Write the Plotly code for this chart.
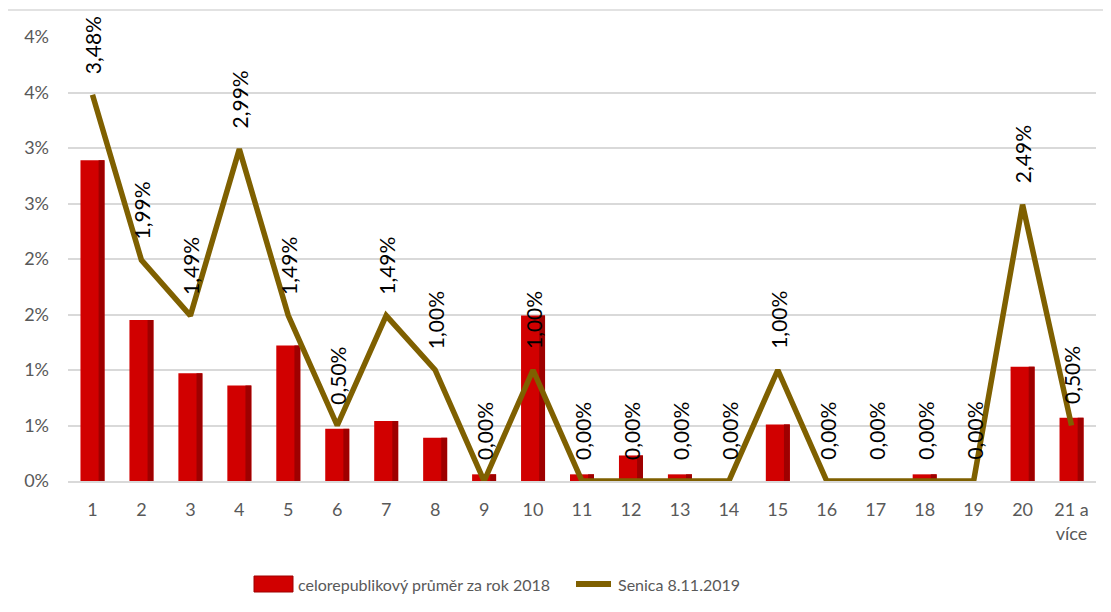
import plotly.graph_objects as go

categories = ["1", "2", "3", "4", "5", "6", "7", "8", "9", "10", "11", "12", "13", "14",
              "15", "16", "17", "18", "19", "20", "21 a<br>více"]
cz_avg_2018 = [2.89, 1.45, 0.97, 0.86, 1.22, 0.47, 0.54, 0.39, 0.06, 1.49, 0.06, 0.23,
               0.06, 0.0, 0.51, 0.0, 0.0, 0.06, 0.0, 1.03, 0.57]
senica_2019 = [3.48, 1.99, 1.49, 2.99, 1.49, 0.50, 1.49, 1.00, 0.00, 1.00, 0.00, 0.00,
               0.00, 0.00, 1.00, 0.00, 0.00, 0.00, 0.00, 2.49, 0.50]
ytick_vals = [0, 0.5, 1.0, 1.5, 2.0, 2.5, 3.0, 3.5, 4.0]
ytick_text = ["0%", "1%", "1%", "2%", "2%", "3%", "3%", "4%", "4%"]
legend_names = ["celorepublikový průměr za rok 2018", "Senica 8.11.2019"]

FONT = "Lato"
GRAY = "#595959"
xpos = list(range(1, len(categories) + 1))

# plot area in page pixels (page has an 8px body offset)
PL, PT, PW, PH = 68, 37, 1028, 444


def px(xp):
    return (xp - PL) / PW


def py(yp):
    return (PT + PH - yp) / PH


fig = go.Figure()
fig.add_trace(go.Bar(x=xpos, y=cz_avg_2018, width=0.49, offset=-0.245,
                     marker=dict(color="#d10000", line=dict(width=0)),
                     name=legend_names[0], showlegend=False, hoverinfo="skip"))
fig.add_trace(go.Bar(x=xpos, y=cz_avg_2018, width=0.12, offset=0.125,
                     marker=dict(color="#9e0000", line=dict(width=0)),
                     showlegend=False, hoverinfo="skip"))
fig.add_trace(go.Scatter(x=xpos, y=senica_2019, mode="lines",
                         line=dict(color="#7f6000", width=5.5),
                         name=legend_names[1], showlegend=False, cliponaxis=False))

annotations = []
for xi, v in zip(xpos, senica_2019):
    annotations.append(dict(x=xi, y=v, xref="x", yref="y", text=f"{v:.2f}%".replace(".", ","),
                            textangle=-90, showarrow=False, yanchor="bottom", xanchor="center",
                            yshift=19, font=dict(family=FONT, size=21, color="#000000")))

# custom legend
annotations.append(dict(x=px(296), y=py(584), xref="paper", yref="paper",
                        text=legend_names[0], showarrow=False, xanchor="left", yanchor="middle",
                        font=dict(family=FONT, size=16, color=GRAY)))
annotations.append(dict(x=px(616), y=py(584), xref="paper", yref="paper",
                        text=legend_names[1], showarrow=False, xanchor="left", yanchor="middle",
                        font=dict(family=FONT, size=16, color=GRAY)))

shapes = [
    dict(type="rect", xref="paper", yref="paper",
         x0=px(254), x1=px(293), y0=py(592), y1=py(576),
         fillcolor="#d10000", line=dict(color="#9e0000", width=1)),
    dict(type="line", xref="paper", yref="paper",
         x0=px(576), x1=px(611), y0=py(584), y1=py(584),
         line=dict(color="#7f6000", width=6)),
    # chart frame (left and top edges)
    dict(type="line", xref="paper", yref="paper",
         x0=px(7), x1=px(7), y0=py(640), y1=py(10),
         line=dict(color="#d9d9d9", width=1.5)),
    dict(type="line", xref="paper", yref="paper",
         x0=px(7), x1=px(1140), y0=py(10), y1=py(10),
         line=dict(color="#d9d9d9", width=1.5)),
]

fig.update_layout(
    width=1111, height=612,
    margin=dict(l=PL - 8, r=1111 - (PL - 8) - PW, t=PT - 8, b=612 - (PT - 8) - PH),
    paper_bgcolor="white", plot_bgcolor="white",
    barmode="overlay",
    showlegend=False,
    annotations=annotations,
    shapes=shapes,
    xaxis=dict(tickmode="array", tickvals=xpos, ticktext=categories,
               range=[0.5, len(categories) + 0.5], showgrid=False,
               showline=True, linecolor="#d9d9d9", linewidth=1.5, ticks="",
               tickfont=dict(family=FONT, size=18, color=GRAY), ticklabelstandoff=12,
               zeroline=False),
    yaxis=dict(range=[0, 4], tickmode="array", tickvals=ytick_vals, ticktext=ytick_text,
               showgrid=True, gridcolor="#d9d9d9", gridwidth=1.5, zeroline=False,
               showline=False, ticks="", ticklabelstandoff=18,
               tickfont=dict(family=FONT, size=18, color=GRAY)),
)

fig.write_html("out.html")
